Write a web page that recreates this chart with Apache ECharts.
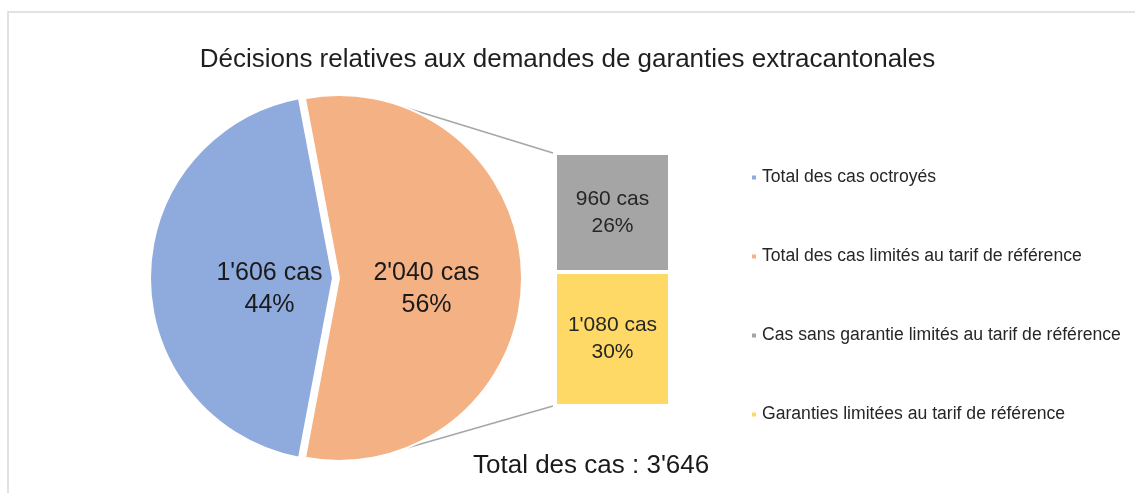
<!DOCTYPE html>
<html>
<head>
<meta charset="utf-8">
<script src="https://cdn.jsdelivr.net/npm/echarts@6/dist/echarts.min.js"></script>
<style>
html,body{margin:0;padding:0;background:#fff;}
#c{width:1135px;height:493px;}
</style>
</head>
<body>
<div id="c"></div>
<script>
// ---- data ----
const titleText = "Décisions relatives aux demandes de garanties extracantonales";
const totalText = "Total des cas : 3'646";
const pieNames = ["Total des cas octroyés", "Total des cas limités au tarif de référence"];
const pieValues = [1606, 2040];
const pieLabels = ["1'606 cas", "44%", "2'040 cas", "56%"];
const barNames = ["Garanties limitées au tarif de référence", "Cas sans garantie limités au tarif de référence"];
const barValues = [1080, 960];
const barLabels = ["1'080 cas\n30%", "960 cas\n26%"];
const legendOrder = ["Total des cas octroyés", "Total des cas limités au tarif de référence",
  "Cas sans garantie limités au tarif de référence", "Garanties limitées au tarif de référence"];

// ---- style / layout ----
const FONT = "'Liberation Sans', Arial, sans-serif";
const colBlue = '#8FAADC', colOrange = '#F4B183', colGray = '#A5A5A5', colYellow = '#FFD966';
const pieCx = 333, pieCy = 278, pieR = 183, explode = 6;
const gridL = 555, gridT = 153, gridW = 115, gridH = 253;

const chart = echarts.init(document.getElementById('c'), null, {renderer: 'canvas'});

const pieData = pieValues.map((v, i) => ({
  name: pieNames[i], value: v,
  selected: i === 1,
  itemStyle: {color: i === 0 ? colBlue : colOrange},
  label: {
    formatter: '{s| }\n{a|' + pieLabels[2 * i] + '}\n{a|' + pieLabels[2 * i + 1] + '}',
    padding: i === 0 ? [0, 0, 0, 62] : [0, 14, 0, 0]
  }
}));

const barSeries = barValues.map((v, i) => ({
  type: 'bar', name: barNames[i], stack: 'total',
  data: [v], barWidth: '100%',
  itemStyle: {color: i === 0 ? colYellow : colGray, borderColor: '#fff', borderWidth: 2},
  label: {show: true, position: 'inside', formatter: barLabels[i],
    fontFamily: FONT, fontSize: 21, lineHeight: 27, color: '#262626'},
  emphasis: {disabled: true}, silent: true
}));

chart.setOption({
  animation: false,
  backgroundColor: '#fff',
  title: [
    {text: titleText, left: 'center', top: 42,
      textStyle: {fontFamily: FONT, fontSize: 26, fontWeight: 'normal', color: '#1f1f1f'}},
    {text: totalText, left: 468, top: 448,
      textStyle: {fontFamily: FONT, fontSize: 26, fontWeight: 'normal', color: '#1a1a1a'}}
  ],
  legend: {
    orient: 'vertical', left: 745, top: 162,
    data: legendOrder, icon: 'rect', itemWidth: 6, itemHeight: 6,
    itemGap: 58,
    textStyle: {fontFamily: FONT, fontSize: 17.6, lineHeight: 21, color: '#262626'},
    selectedMode: false
  },
  grid: {left: gridL, top: gridT, width: gridW, height: gridH, containLabel: false},
  xAxis: {type: 'category', data: ['x'], show: false},
  yAxis: {type: 'value', min: 0, max: 2040, show: false},
  series: [
    {
      type: 'pie', name: 'pie', center: [pieCx, pieCy], radius: pieR,
      startAngle: 259.3, clockwise: true,
      selectedMode: 'single', selectedOffset: explode,
      itemStyle: {borderColor: '#fff', borderWidth: 2},
      label: {show: true, position: 'inside', fontFamily: FONT, fontSize: 25, lineHeight: 32, color: '#1a1a1a',
        rich: {
          s: {fontSize: 2, lineHeight: 22},
          a: {fontFamily: FONT, fontSize: 25, lineHeight: 32, color: '#1a1a1a'}
        }},
      labelLine: {show: false},
      emphasis: {disabled: true}, silent: true,
      data: pieData
    },
    ...barSeries
  ],
  graphic: []
});

// connector lines from the exploded slice to the bar corners
const ox = pieCx + explode, ang = 22 * Math.PI / 180;
const px = ox + pieR * Math.sin(ang);
const pyTop = pieCy - pieR * Math.cos(ang), pyBot = pieCy + pieR * Math.cos(ang);
const topY = chart.convertToPixel({yAxisIndex: 0}, 2040);
const botY = chart.convertToPixel({yAxisIndex: 0}, 0);
chart.setOption({
  graphic: [
    {type: 'rect', shape: {x: 8, y: 12, width: 1200, height: 600},
      style: {fill: 'none', stroke: '#D9D9D9', lineWidth: 1.5}, silent: true, z: -1},
    {type: 'line', shape: {x1: px, y1: pyTop, x2: gridL - 2, y2: topY},
      style: {stroke: '#A6A6A6', lineWidth: 1.5}, silent: true},
    {type: 'line', shape: {x1: px, y1: pyBot, x2: gridL - 2, y2: botY},
      style: {stroke: '#A6A6A6', lineWidth: 1.5}, silent: true}
  ]
});
</script>
</body>
</html>
